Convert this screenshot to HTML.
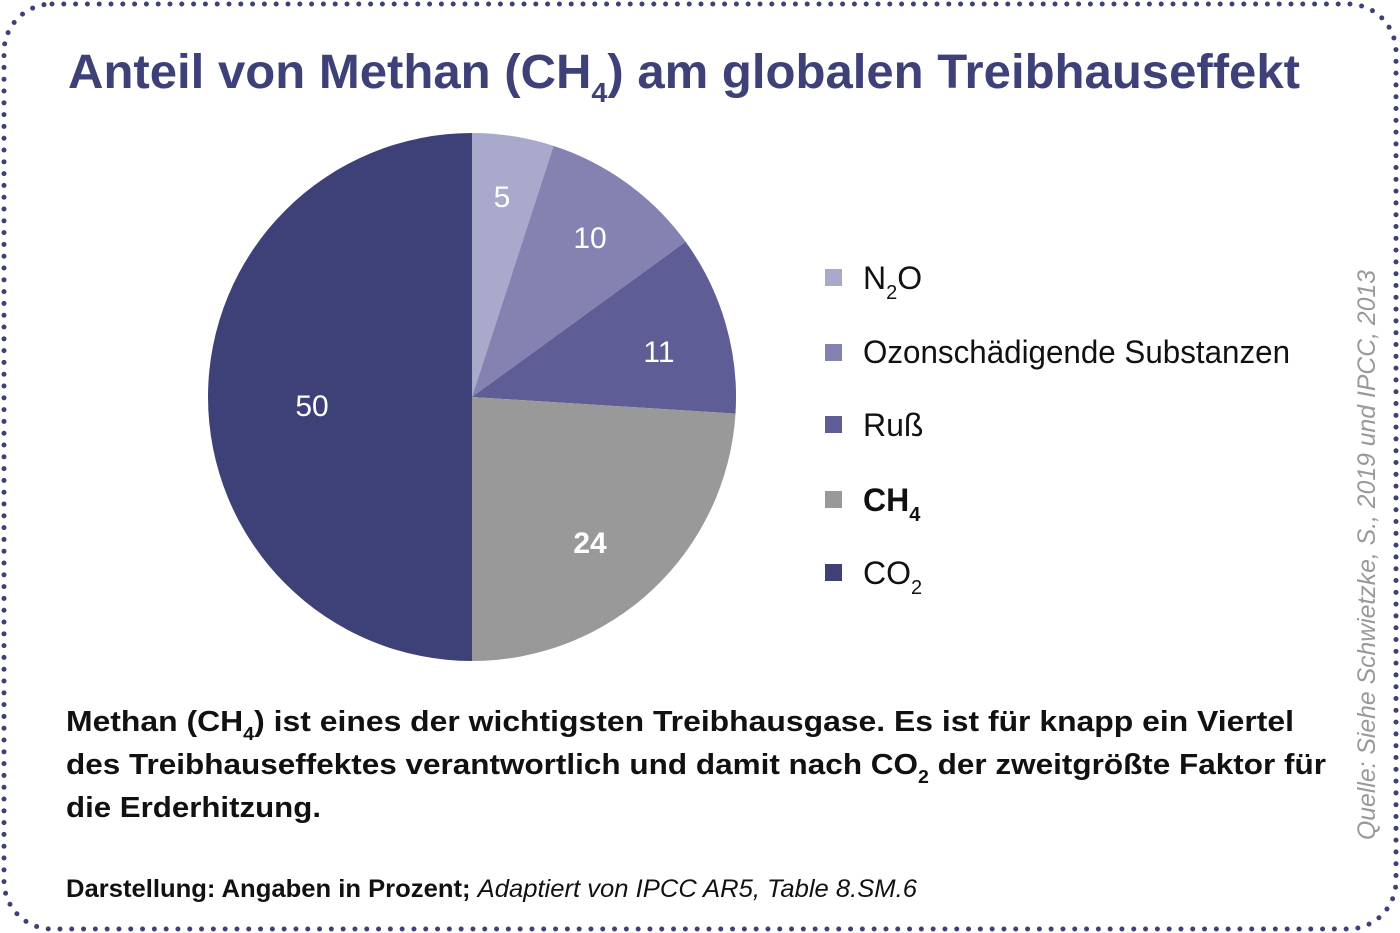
<!DOCTYPE html>
<html><head><meta charset="utf-8"><style>html,body{margin:0;padding:0;background:#fff}svg{display:block}</style></head>
<body>
<svg width="1400" height="933" viewBox="0 0 1400 933" xmlns="http://www.w3.org/2000/svg" font-family="Liberation Sans, sans-serif">
<rect x="4" y="4" width="1392" height="925" rx="48" ry="48" fill="none" stroke="#3d4178" stroke-width="5" stroke-linecap="round" stroke-dasharray="0 11.8"/>
<text x="68" y="88" font-size="48" font-weight="bold" fill="#3d4178" textLength="1232" lengthAdjust="spacingAndGlyphs">Anteil von Methan (CH<tspan font-size="28" dy="14">4</tspan><tspan dy="-14">) am globalen Treibhauseffekt</tspan></text>
<path d="M472,397 L472,133 A264,264 0 0 1 553.6,145.9 Z" fill="#a9a9cc"/>
<path d="M472,397 L553.6,145.9 A264,264 0 0 1 685.6,241.8 Z" fill="#8482b0"/>
<path d="M472,397 L685.6,241.8 A264,264 0 0 1 735.5,413.6 Z" fill="#5e5d96"/>
<path d="M472,397 L735.5,413.6 A264,264 0 0 1 472,661 Z" fill="#999999"/>
<path d="M472,397 L472,661 A264,264 0 0 1 472,133 Z" fill="#3d4178"/>
<g fill="#fff" font-size="30" text-anchor="middle">
<text x="502" y="207">5</text><text x="590" y="248">10</text><text x="659" y="362">11</text>
<text x="590" y="553" font-weight="bold">24</text><text x="312" y="416">50</text></g>
<g font-size="32" fill="#111">
<rect x="825" y="269" width="17" height="17" fill="#a9a9cc"/><text x="863" y="289">N<tspan font-size="20" dy="10">2</tspan><tspan dy="-10">O</tspan></text>
<rect x="825" y="344" width="17" height="17" fill="#8482b0"/><text x="863" y="363" textLength="427" lengthAdjust="spacingAndGlyphs">Ozonschädigende Substanzen</text>
<rect x="825" y="416" width="17" height="17" fill="#5e5d96"/><text x="863" y="436">Ruß</text>
<rect x="825" y="491" width="17" height="17" fill="#999999"/><text x="863" y="511" font-weight="bold">CH<tspan font-size="20" dy="10">4</tspan></text>
<rect x="825" y="564" width="17" height="17" fill="#3d4178"/><text x="863" y="584">CO<tspan font-size="20" dy="10">2</tspan></text>
</g>
<g font-size="29" font-weight="bold" fill="#111">
<text x="66" y="731" textLength="1228" lengthAdjust="spacingAndGlyphs">Methan (CH<tspan font-size="18" dy="9">4</tspan><tspan dy="-9">) ist eines der wichtigsten Treibhausgase. Es ist für knapp ein Viertel</tspan></text>
<text x="66" y="774" textLength="1260" lengthAdjust="spacingAndGlyphs">des Treibhauseffektes verantwortlich und damit nach CO<tspan font-size="18" dy="9">2</tspan><tspan dy="-9"> der zweitgrößte Faktor für</tspan></text>
<text x="66" y="817" textLength="255" lengthAdjust="spacingAndGlyphs">die Erderhitzung.</text>
</g>
<text x="66" y="897" font-size="25" fill="#111" textLength="851" lengthAdjust="spacingAndGlyphs"><tspan font-weight="bold">Darstellung: Angaben in Prozent; </tspan><tspan font-style="italic">Adaptiert von IPCC AR5, Table 8.SM.6</tspan></text>
<text transform="translate(1375,840) rotate(-90)" font-size="25" font-style="italic" fill="#999" textLength="570" lengthAdjust="spacingAndGlyphs">Quelle: Siehe Schwietzke, S., 2019 und IPCC, 2013</text>
</svg>
</body></html>
